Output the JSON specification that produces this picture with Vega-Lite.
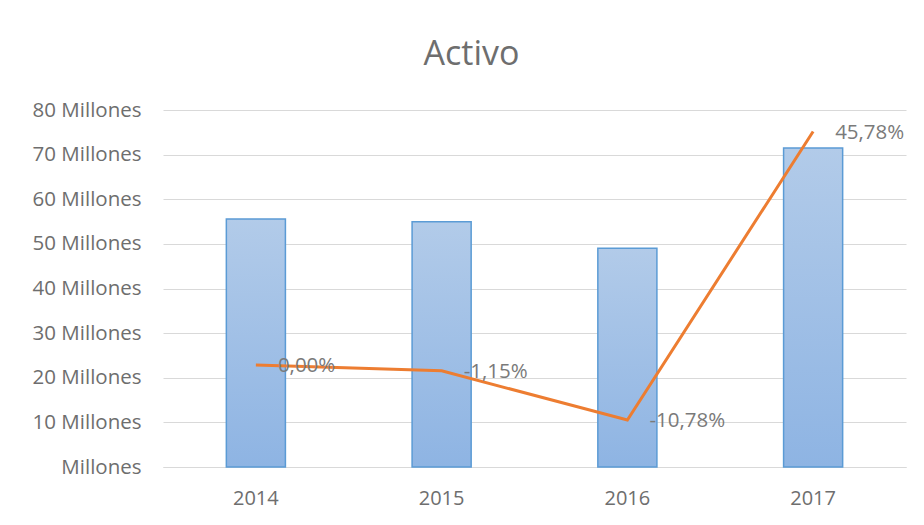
{
  "$schema": "https://vega.github.io/schema/vega-lite/v6.json",
  "autosize": "none",
  "width": 743,
  "height": 357,
  "padding": {"left": 163, "top": 110, "right": 18, "bottom": 58},
  "background": "white",
  "title": {"text": "Activo", "fontSize": 34, "font": "Open Sans", "fontWeight": "normal", "color": "#6e6e6e", "anchor": "middle", "dx": -63, "offset": 28},
  "data": {"values": [
    {"year": "2014", "activo": 55.6, "pct": 0.0},
    {"year": "2015", "activo": 54.96, "pct": -0.0115},
    {"year": "2016", "activo": 49.04, "pct": -0.1078},
    {"year": "2017", "activo": 71.49, "pct": 0.4578}
  ]},
  "encoding": {
    "x": {"field": "year", "type": "nominal", "title": null,
      "scale": {"paddingInner": 0.682, "paddingOuter": 0.341},
      "axis": {"labelAngle": 0, "labelFont": "Open Sans", "labelFontSize": 20, "labelColor": "#6e6e6e", "labelPadding": 21, "ticks": false, "domainColor": "#d9d9d9", "domainWidth": 1, "grid": false}}
  },
  "layer": [
    {
      "mark": {"type": "bar", "stroke": "#5b9bd5", "strokeWidth": 1.5,
        "fill": {"gradient": "linear", "x1": 0, "y1": 0, "x2": 0, "y2": 1, "stops": [{"offset": 0, "color": "#b2cbe9"}, {"offset": 1, "color": "#8eb4e3"}]}},
      "encoding": {
        "y": {"field": "activo", "type": "quantitative", "title": null,
          "scale": {"domain": [0, 80], "nice": false},
          "axis": {"values": [0, 10, 20, 30, 40, 50, 60, 70, 80], "labelExpr": "datum.value == 0 ? 'Millones' : datum.value + ' Millones'", "labelFont": "Open Sans", "labelFontSize": 20.5, "labelColor": "#6e6e6e", "labelPadding": 22, "ticks": false, "domain": false, "gridColor": "#d9d9d9", "gridWidth": 1}}
      }
    },
    {
      "layer": [
        {"mark": {"type": "line", "color": "#ed7d31", "strokeWidth": 3}, "encoding": {}},
        {"mark": {"type": "text", "align": "left", "baseline": "middle", "dx": 22, "dy": 1, "font": "Open Sans", "fontSize": 20.5, "color": "#7a7a7a"},
         "encoding": {"text": {"field": "pct", "type": "quantitative", "format": ".2%"}}}
      ],
      "encoding": {
        "y": {"field": "pct", "type": "quantitative", "scale": {"domain": [-0.2, 0.5], "nice": false}, "axis": null}
      }
    }
  ],
  "resolve": {"scale": {"y": "independent"}},
  "config": {
    "view": {"stroke": null},
    "locale": {"number": {"decimal": ",", "thousands": ".", "grouping": [3], "currency": ["", " €"], "minus": "-"}}
  }
}
